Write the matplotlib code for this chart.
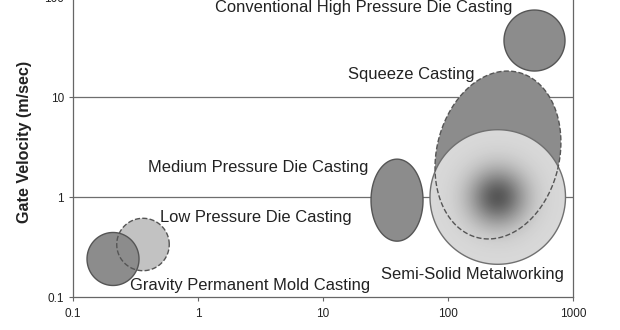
import numpy as np
import matplotlib
matplotlib.use("Agg")
import matplotlib.pyplot as plt
from matplotlib.patches import Polygon

plt.rcParams['font.family'] = ['Liberation Sans', 'DejaVu Sans']

# casting processes: centre (x value, gate velocity), half-size in decades, tilt (deg)
processes = ["Gravity Permanent Mold Casting", "Low Pressure Die Casting",
             "Medium Pressure Die Casting", "Conventional High Pressure Die Casting",
             "Squeeze Casting", "Semi-Solid Metalworking"]
center_x = [0.209, 0.363, 39.1, 492, 251, 250]
center_v = [0.24, 0.335, 0.93, 36.7, 2.63, 1.0]
half_x_dec = [0.208, 0.21, 0.208, 0.244, 0.491, 0.542]
half_y_dec = [0.265, 0.262, 0.41, 0.305, 0.851, 0.673]
tilt_deg = [0, 0, 0, 0, -13.7, 0]

fill_cols = ["#8c8c8c", "#c2c2c2", "#8c8c8c", "#8c8c8c", "#8c8c8c", None]
edge_styles = ["-", "--", "-", "-", "--", "-"]

# label anchor (left edge, vertical centre) in data coords
label_pos = [(0.286, 0.129), (0.50, 0.63), (0.40, 1.95), (1.37, 79), (15.8, 16.6), (29.1, 0.166)]

xticks = [0.1, 1, 10, 100, 1000]
xtick_labels = ["0.1", "1", "10", "100", "1000"]
yticks = [0.1, 1, 10, 100]
ytick_labels = ["0.1", "1", "10", "100"]


def ellipse_xy(ax, cx, cy, wx, wy, angle, scale=1.0, n=200):
    # build the ellipse in display space so it looks round on the log axes
    c = ax.transData.transform((cx, cy))
    rx = ax.transData.transform((cx * 10 ** wx, cy))[0] - c[0]
    ry = ax.transData.transform((cx, cy * 10 ** wy))[1] - c[1]
    t = np.linspace(0, 2 * np.pi, n)
    x = rx * scale * np.cos(t)
    y = ry * scale * np.sin(t)
    a = np.deg2rad(angle)
    xr = x * np.cos(a) - y * np.sin(a) + c[0]
    yr = x * np.sin(a) + y * np.cos(a) + c[1]
    return ax.transData.inverted().transform(np.column_stack([xr, yr]))


fig = plt.figure(figsize=(6.2, 3.3), dpi=100)
ax = fig.add_axes([73 / 620, 33 / 330, 500 / 620, 300 / 330])
ax.set_xscale("log")
ax.set_yscale("log")
ax.set_xlim(0.1, 1000)
ax.set_ylim(0.1, 100)

for v in [1, 10, 100]:
    ax.axhline(v, color="#6e6e6e", lw=0.9, zorder=1)

# fills first (low pressure sits under gravity)
order = [1, 0, 2, 3, 4, 5]
for i in order:
    xy = ellipse_xy(ax, center_x[i], center_v[i], half_x_dec[i], half_y_dec[i], tilt_deg[i])
    if fill_cols[i] is not None:
        ax.add_patch(Polygon(xy, closed=True, facecolor=fill_cols[i], edgecolor="none", zorder=2 + order.index(i)))
    else:
        # radial grey gradient for semi-solid
        steps = 60
        for k in range(steps):
            s = 1 - k / steps
            g = 0.85 - (0.85 - 0.34) * np.exp(-(s / 0.42) ** 2)
            xy_k = ellipse_xy(ax, center_x[i], center_v[i], half_x_dec[i], half_y_dec[i], 0, scale=s)
            ax.add_patch(Polygon(xy_k, closed=True, facecolor=(g, g, g), edgecolor="none",
                                 zorder=2 + order.index(i) + k * 0.001))

# outlines on top
for i in order:
    xy = ellipse_xy(ax, center_x[i], center_v[i], half_x_dec[i], half_y_dec[i], tilt_deg[i])
    ec = "#707070" if i == 5 else "#555555"
    ax.add_patch(Polygon(xy, closed=True, fill=False, edgecolor=ec, lw=1.0,
                         linestyle=edge_styles[i], zorder=10 + (i == 4)))

for name, (lx, ly) in zip(processes, label_pos):
    ax.text(lx, ly, name, ha="left", va="center", fontsize=11.9, color="#222222", zorder=20)

ax.set_xticks(xticks)
ax.set_xticklabels(xtick_labels)
ax.set_yticks(yticks)
ax.set_yticklabels(ytick_labels)
ax.minorticks_off()
ax.tick_params(labelsize=8.5, colors="#222222", length=3, width=0.8, color="#666666")
ax.tick_params(axis="x", pad=5)

for side in ["left", "bottom", "right"]:
    ax.spines[side].set_color("#666666")
    ax.spines[side].set_linewidth(0.9)
ax.spines["top"].set_visible(False)

ax.set_ylabel("Gate Velocity (m/sec)", fontsize=11.6, fontweight="bold", color="#222222")
ax.yaxis.set_label_coords(-(73 - 32) / 500, (297 - 142) / 300)

fig.savefig("out.png", dpi=100)
